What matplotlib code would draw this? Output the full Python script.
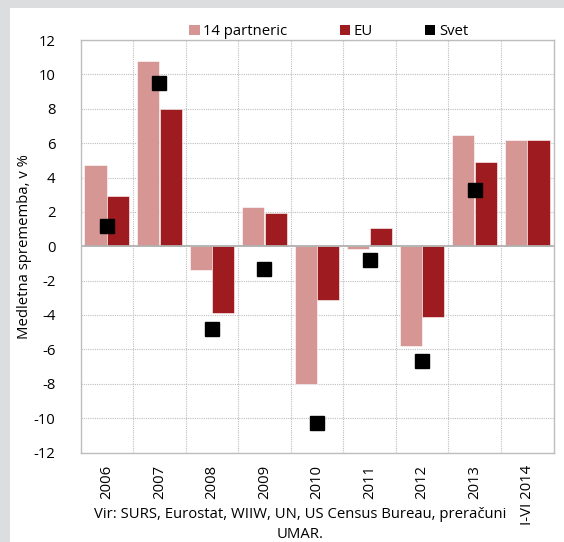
import matplotlib
matplotlib.use("Agg")
import matplotlib.pyplot as plt
from matplotlib.patches import Rectangle, Patch
import numpy as np

plt.rcParams['font.family'] = ['Open Sans', 'DejaVu Sans']

categories = ['2006', '2007', '2008', '2009', '2010', '2011', '2012', '2013', 'I-VI 2014']
partneric = [4.7, 10.8, -1.4, 2.3, -8.0, -0.15, -5.8, 6.5, 6.2]
eu = [2.9, 8.0, -3.9, 1.95, -3.1, 1.05, -4.1, 4.9, 6.2]
svet = [1.2, 9.5, -4.8, -1.3, -10.3, -0.8, -6.65, 3.3, np.nan]

yticks = list(range(-12, 13, 2))

c_pink = '#d69694'
c_red = '#9e1b20'
c_grid = '#bfbfbf'
fs = 10.7

fig = plt.figure(figsize=(5.64, 5.42), dpi=100)
fig.patch.set_facecolor('#dcdddf')
fig.patches.append(Rectangle((10 / 564, 0), 1 - 10 / 564, 1 - 8 / 542,
                             transform=fig.transFigure, facecolor='white',
                             edgecolor='none', zorder=-10))

ax = fig.add_axes([80.5 / 564, 1 - 452.5 / 542, (553.5 - 80.5) / 564, (452.5 - 40) / 542])
ax.set_facecolor('white')

x = np.arange(len(categories))
w = 0.42
off = 0.215
ax.bar(x - off, partneric, w, color=c_pink, edgecolor='white', linewidth=0.4, zorder=2)
ax.bar(x + off, eu, w, color=c_red, edgecolor='white', linewidth=0.4, zorder=2)
ax.plot(x, svet, linestyle='none', marker='s', ms=9.4, color='black', zorder=3)

ax.set_xlim(-0.5, len(categories) - 0.5)
ax.set_ylim(-12, 12)
ax.set_yticks(yticks)
ax.set_yticklabels([str(t) for t in yticks], fontsize=fs)
ax.set_xticks(x)
ax.set_xticklabels(categories, rotation=90, fontsize=fs)
ax.tick_params(axis='both', length=0)
ax.tick_params(axis='y', pad=18)
ax.tick_params(axis='x', pad=9)

# grid: dotted horizontals at ticks, dotted verticals between categories
for t in yticks:
    if t != 0:
        ax.axhline(t, color=c_grid, linestyle=(0, (1, 1)), linewidth=0.8, zorder=1)
for b in np.arange(0.5, len(categories) - 0.5, 1):
    ax.axvline(b, color=c_grid, linestyle=(0, (1, 1)), linewidth=0.8, zorder=1)
ax.axhline(0, color='#b0b0b0', linewidth=1.3, zorder=2.5)

for s in ax.spines.values():
    s.set_color('#bdbdbd')
    s.set_linewidth(1.0)

ax.set_ylabel('Medletna sprememba, v %', fontsize=fs)
ax.yaxis.set_label_coords(-0.1025, 0.5)

handles = [Patch(facecolor=c_pink, edgecolor='none'),
           Patch(facecolor=c_red, edgecolor='none'),
           Patch(facecolor='black', edgecolor='none')]
ax.legend(handles, ['14 partneric', 'EU', 'Svet'], loc='lower center',
          bbox_to_anchor=(0.525, 0.988), ncol=3, frameon=False, fontsize=fs,
          handlelength=0.7, handleheight=0.7, handletextpad=0.25, columnspacing=3.5,
          borderaxespad=0)

fig.text(300 / 564, 1 - 524.5 / 542, 'Vir: SURS, Eurostat, WIIW, UN, US Census Bureau, preračuni\nUMAR.',
         ha='center', va='center', fontsize=fs, linespacing=1.45)

fig.savefig('out.png', dpi=100, facecolor=fig.get_facecolor())
